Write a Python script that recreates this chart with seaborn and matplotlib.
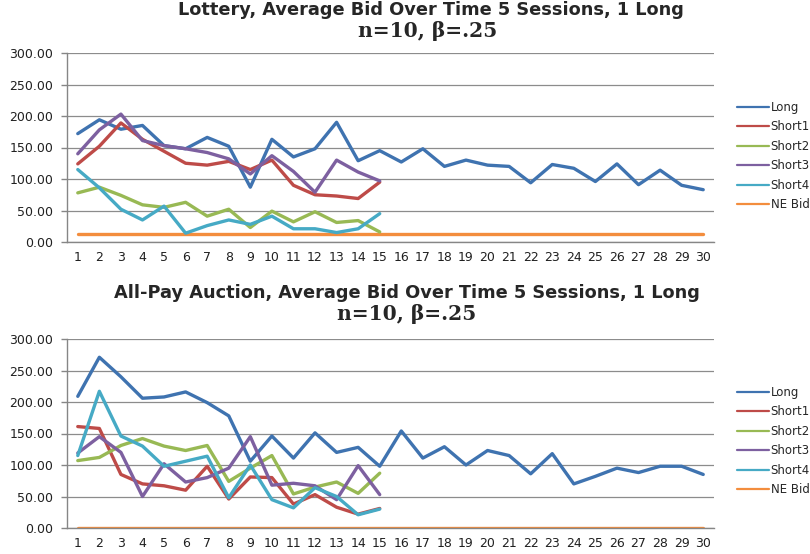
import numpy as np
import pandas as pd
import matplotlib
matplotlib.use("Agg")
import matplotlib.pyplot as plt
import seaborn as sns
from matplotlib.lines import Line2D

periods = list(range(1, 31))
short_periods = list(range(1, 16))
series_names = ["Long", "Short1", "Short2", "Short3", "Short4", "NE Bid"]
colors = ["#3F73B0", "#BE4B48", "#98B954", "#7D60A0", "#46AAC5", "#F38D3D"]

# Lottery
lot_long = [172, 194, 179, 185, 153, 148, 166, 152, 87, 163, 135, 148, 190, 129, 145,
            127, 148, 120, 130, 122, 120, 94, 123, 117, 96, 124, 91, 114, 90, 83]
lot_s1 = [124, 152, 189, 163, 144, 125, 122, 128, 115, 130, 90, 75, 73, 69, 95]
lot_s2 = [78, 87, 74, 59, 55, 63, 41, 52, 23, 49, 32, 48, 31, 34, 16]
lot_s3 = [140, 178, 203, 161, 153, 148, 142, 132, 108, 137, 112, 79, 130, 111, 97]
lot_s4 = [115, 86, 52, 35, 57, 14, 26, 35, 28, 41, 21, 21, 15, 21, 45]
lot_ne = [12] * 30

# All-pay auction
ap_long = [209, 271, 240, 206, 208, 216, 199, 178, 106, 146, 111, 151, 120, 128, 98,
           154, 111, 129, 100, 123, 115, 86, 118, 70, 82, 95, 88, 98, 98, 85]
ap_s1 = [161, 158, 85, 70, 67, 60, 98, 46, 81, 80, 38, 53, 33, 22, 31]
ap_s2 = [107, 112, 131, 142, 130, 123, 131, 74, 95, 115, 54, 65, 73, 55, 87]
ap_s3 = [119, 145, 120, 50, 102, 73, 80, 95, 145, 68, 71, 67, 45, 99, 53]
ap_s4 = [115, 217, 146, 130, 98, 106, 114, 48, 100, 45, 32, 64, 50, 21, 30]
ap_ne = [0] * 30

def make_df(long_, s1, s2, s3, s4, ne):
    rows = []
    for name, vals, xs in [("Long", long_, periods), ("Short1", s1, short_periods),
                           ("Short2", s2, short_periods), ("Short3", s3, short_periods),
                           ("Short4", s4, short_periods), ("NE Bid", ne, periods)]:
        for x, v in zip(xs, vals):
            rows.append({"period": x, "bid": v, "series": name})
    return pd.DataFrame(rows)

sns.set_theme(style="white")
plt.rcParams["font.family"] = ["DejaVu Sans"]

fig = plt.figure(figsize=(8.1, 5.54), dpi=100)
W, H = 810, 554
TICK_FS = 9

def setup_ax(ax, df, draw_order):
    pal = dict(zip(series_names, colors))
    for name in draw_order:
        sub = df[df.series == name]
        sns.lineplot(data=sub, x="period", y="bid", color=pal[name], linewidth=2.4,
                     ax=ax, legend=False, zorder=3 if name != "NE Bid" else 2.5)
    ax.set_xlim(0.5, 30.5)
    ax.set_ylim(0, 300)
    ax.set_yticks(np.arange(0, 301, 50))
    ax.set_yticklabels([f"{v:.2f}" for v in np.arange(0, 301, 50)], fontsize=TICK_FS, color="#202020")
    ax.set_xticks(periods)
    ax.set_xticklabels([str(p) for p in periods], fontsize=TICK_FS, color="#202020")
    ax.set_xticks(np.arange(0.5, 31, 1), minor=True)
    ax.tick_params(axis="x", which="major", length=0, pad=6.5)
    ax.tick_params(axis="x", which="minor", length=4, color="#868686", width=1, direction="out")
    ax.tick_params(axis="y", length=4.3, color="#868686", width=1, direction="out", left=True, pad=5.5)
    ax.grid(True, axis="y", color="#8C8C8C", linewidth=0.9)
    ax.set_axisbelow(True)
    for s in ["top", "right"]:
        ax.spines[s].set_visible(False)
    for s in ["left", "bottom"]:
        ax.spines[s].set_color("#868686")
        ax.spines[s].set_linewidth(1)
    ax.set_xlabel("")
    ax.set_ylabel("")

order = ["NE Bid", "Long", "Short1", "Short2", "Short3", "Short4"]

ax1 = fig.add_axes([67 / W, 1 - 242 / H, 647 / W, 189 / H])
setup_ax(ax1, make_df(lot_long, lot_s1, lot_s2, lot_s3, lot_s4, lot_ne), order)
ax2 = fig.add_axes([67 / W, 1 - 528 / H, 647 / W, 189 / H])
setup_ax(ax2, make_df(ap_long, ap_s1, ap_s2, ap_s3, ap_s4, ap_ne), order)

handles = [Line2D([], [], color=c, linewidth=1.6) for c in colors]
for y_top in (101, 386):
    fig.legend(handles, series_names, loc="upper left",
               bbox_to_anchor=(737 / W, 1 - y_top / H), frameon=False,
               fontsize=8.5, handlelength=2.7, handletextpad=0.15,
               labelspacing=0.55, borderaxespad=0, borderpad=0)

title_font = ["DejaVu Sans"]
serif_font = ["DejaVu Serif"]
fig.text(431 / W, 1 - 15 / H, "Lottery, Average Bid Over Time 5 Sessions, 1 Long",
         ha="center", va="baseline", fontsize=12.8, fontweight="bold", family=title_font)
fig.text(428 / W, 1 - 37 / H, "n=10, β=.25", ha="center", va="baseline",
         fontsize=14.6, fontweight="bold", family=serif_font)
fig.text(407 / W, 1 - 298 / H, "All-Pay Auction, Average Bid Over Time 5 Sessions, 1 Long",
         ha="center", va="baseline", fontsize=12.8, fontweight="bold", family=title_font)
fig.text(407 / W, 1 - 320 / H, "n=10, β=.25", ha="center", va="baseline",
         fontsize=14.6, fontweight="bold", family=serif_font)

fig.savefig("out.png", dpi=100)
